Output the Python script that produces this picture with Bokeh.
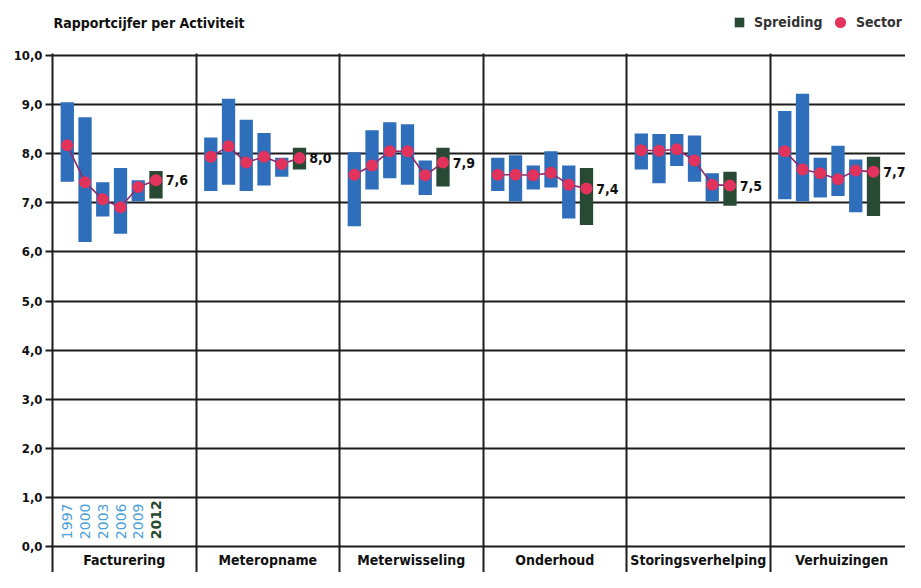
import numpy as np
from bokeh.plotting import figure
from bokeh.models import Range1d, FixedTicker, Label, Legend, LegendItem
from bokeh.core.properties import value
from bokeh.embed import file_html
from bokeh.resources import INLINE

# ---------------- data ----------------
activities = ["Facturering", "Meteropname", "Meterwisseling",
              "Onderhoud", "Storingsverhelping", "Verhuizingen"]
years = ["1997", "2000", "2003", "2006", "2009", "2012"]

spread_high = [
    [9.05, 8.74, 7.42, 7.71, 7.46, 7.65],
    [8.33, 9.12, 8.69, 8.42, 7.92, 8.12],
    [8.03, 8.48, 8.64, 8.60, 7.86, 8.12],
    [7.92, 7.97, 7.76, 8.05, 7.76, 7.71],
    [8.41, 8.40, 8.40, 8.37, 7.60, 7.63],
    [8.87, 9.22, 7.92, 8.16, 7.88, 7.94],
]
spread_low = [
    [7.43, 6.20, 6.72, 6.37, 7.03, 7.09],
    [7.24, 7.37, 7.24, 7.35, 7.53, 7.68],
    [6.52, 7.27, 7.50, 7.37, 7.16, 7.33],
    [7.24, 7.03, 7.27, 7.31, 6.68, 6.55],
    [7.68, 7.40, 7.75, 7.43, 7.03, 6.94],
    [7.07, 7.03, 7.11, 7.14, 6.81, 6.73],
]
sector = [
    [8.17, 7.42, 7.07, 6.91, 7.32, 7.46],
    [7.94, 8.15, 7.82, 7.94, 7.79, 7.91],
    [7.57, 7.76, 8.05, 8.05, 7.56, 7.82],
    [7.57, 7.57, 7.56, 7.61, 7.37, 7.29],
    [8.07, 8.06, 8.09, 7.86, 7.37, 7.35],
    [8.05, 7.68, 7.60, 7.48, 7.66, 7.63],
]
score_labels = ["7,6", "8,0", "7,9", "7,4", "7,5", "7,7"]
y_ticks = list(range(11))

# ---------------- styling ----------------
FONTNAME = "'DejaVu Sans Condensed', 'Roboto', sans-serif"
FONT = value(FONTNAME)
BLUE = "#2f6eba"
GREEN = "#284a34"
RED = "#e2335c"
LINE = "#8e2a6b"
GRID = "#1c1c1c"
YEAR_BLUE = "#4a9fd6"
TXT = "#111111"

n_g = len(activities)
n_y = len(years)
group_px = 143.5
offsets = (15 + 18 * np.arange(n_y)) / 145.6 - 0.5
bar_w = 13.5 / 145.6

hi = np.array(spread_high)
lo = np.array(spread_low)
sec = np.array(sector)
gx = np.arange(n_g)[:, None] + offsets[None, :]

W, H = 905, 572
left = 52
scale_y = 49.1
v_top = 10 + 55 / scale_y
v_bot = v_top - H / scale_y

p = figure(width=W, height=H,
           x_range=Range1d(-0.5, -0.5 + (W - left) / group_px),
           y_range=Range1d(v_bot, v_top),
           output_backend="svg", toolbar_location=None,
           min_border_left=left, min_border_right=0,
           min_border_top=0, min_border_bottom=0)
p.outline_line_color = None
p.background_fill_color = "white"
p.xaxis.visible = False

# grid
p.ygrid.ticker = FixedTicker(ticks=y_ticks)
p.ygrid.grid_line_color = GRID
p.ygrid.grid_line_width = 2
p.xgrid.ticker = FixedTicker(ticks=[g + 0.5 for g in range(n_g - 1)])
p.xgrid.grid_line_color = GRID
p.xgrid.grid_line_width = 2
p.xgrid.cross_bounds = (v_bot, 10.04)

# y axis
ya = p.yaxis[0]
ya.ticker = FixedTicker(ticks=y_ticks)
ya.major_label_overrides = {t: f"{t},0" for t in y_ticks}
ya.bounds = (v_bot, 10.04)
ya.axis_line_color = GRID
ya.axis_line_width = 2
ya.major_tick_out = 7
ya.major_tick_in = 0
ya.major_tick_line_width = 2
ya.major_tick_line_color = GRID
ya.minor_tick_line_color = None
ya.major_label_standoff = 3
ya.major_label_text_font = FONTNAME
ya.major_label_text_font_style = "bold"
ya.major_label_text_font_size = "13px"
ya.major_label_text_color = TXT

# bars
blue_r = p.vbar(x=gx[:, :-1].ravel(), width=bar_w, top=hi[:, :-1].ravel(),
                bottom=lo[:, :-1].ravel(), fill_color=BLUE, line_color=None)
green_r = p.vbar(x=gx[:, -1], width=bar_w, top=hi[:, -1], bottom=lo[:, -1],
                 fill_color=GREEN, line_color=None)

# sector lines and dots
p.multi_line(xs=[list(r) for r in gx], ys=[list(r) for r in sec],
             line_color=LINE, line_width=1.6)
dot_r = p.scatter(x=gx.ravel(), y=sec.ravel(), size=12, fill_color=RED,
                  line_color=None)

# value labels
p.text(x=gx[:, -1] + bar_w / 2, y=sec[:, -1], text=score_labels, x_offset=3,
       text_baseline="middle", text_align="left", text_font=FONT,
       text_font_style="bold", text_font_size="14px", text_color=TXT)

# group names below the zero line
p.text(x=list(range(n_g)), y=[v_top - 559 / scale_y] * n_g, text=activities,
       text_baseline="middle", text_align="center", text_font=FONT,
       text_font_style="bold", text_font_size="14px", text_color=TXT)

# year labels in first group
p.text(x=gx[0, :-1], y=[0.15] * (n_y - 1), text=years[:-1], angle=np.pi / 2,
       text_align="left", text_baseline="middle",
       text_font=value("DejaVu Sans"), text_font_size="14px",
       text_color=YEAR_BLUE)
p.text(x=gx[0, -1:], y=[0.15], text=years[-1:], angle=np.pi / 2,
       text_align="left", text_baseline="middle",
       text_font=value("DejaVu Sans"), text_font_style="bold",
       text_font_size="14px", text_color=GREEN)

# title
p.add_layout(Label(x=-0.5, y=10 + 33 / scale_y, x_offset=1,
                   text="Rapportcijfer per Activiteit",
                   text_font=FONTNAME, text_font_style="bold", text_font_size="14px",
                   text_baseline="middle", text_color=TXT))

# legends (two parts so each swatch has its own size)
common = dict(orientation="horizontal", margin=0, padding=0, label_height=28,
              background_fill_alpha=0, border_line_color=None,
              label_text_font=FONTNAME, label_text_font_style="bold",
              label_text_font_size="14px", label_text_color="#333333")
leg_a = Legend(items=[LegendItem(label="Spreiding", renderers=[green_r])],
               location=(681, H - 36), glyph_width=12, glyph_height=12,
               label_standoff=9, **common)
leg_b = Legend(items=[LegendItem(label="Sector", renderers=[dot_r])],
               location=(774, H - 36), glyph_width=28, glyph_height=28,
               label_standoff=2, **common)
p.add_layout(leg_a)
p.add_layout(leg_b)

open("out.html", "w").write(file_html(p, INLINE))
